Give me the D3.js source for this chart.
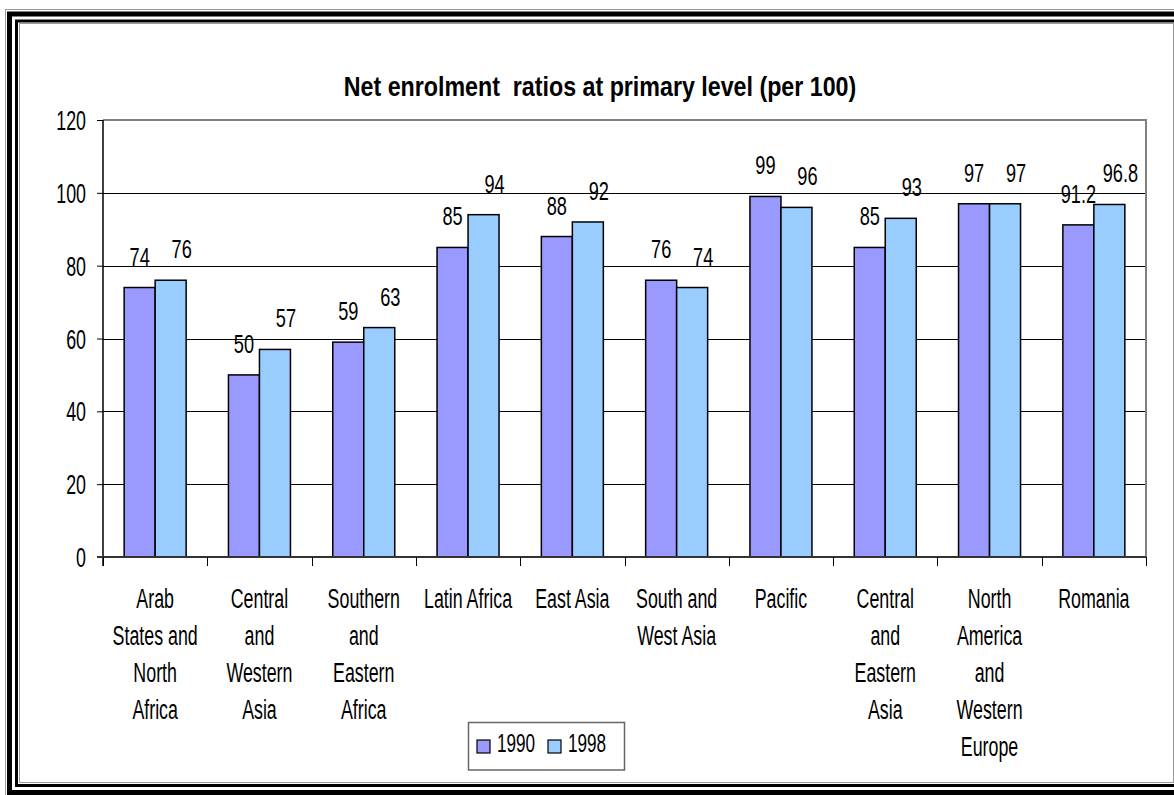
<!DOCTYPE html>
<html>
<head>
<meta charset="utf-8">
<script src="https://cdn.jsdelivr.net/npm/d3@7"></script>
<style>
  html, body { margin: 0; padding: 0; background: #fff; }
  svg { display: block; }
  text { font-family: "Liberation Sans", Arial, sans-serif; fill: #000; white-space: pre; }
</style>
</head>
<body>
<svg id="chart" width="1174" height="795"></svg>
<script>
// Net enrolment ratios at primary level, by region
const categories = [
  "Arab\nStates and\nNorth\nAfrica",
  "Central\nand\nWestern\nAsia",
  "Southern\nand\nEastern\nAfrica",
  "Latin Africa",
  "East Asia",
  "South and\nWest Asia",
  "Pacific",
  "Central\nand\nEastern\nAsia",
  "North\nAmerica\nand\nWestern\nEurope",
  "Romania"
];
const seriesNames = ["1990", "1998"];
const values1990 = [74, 50, 59, 85, 88, 76, 99, 85, 97, 91.2];
const values1998 = [76, 57, 63, 94, 92, 74, 96, 93, 97, 96.8];
const yTicks = [0, 20, 40, 60, 80, 100, 120];
const seriesColors = ["#9999FF", "#99CCFF"];
const titleText = "Net enrolment  ratios at primary level (per 100)";

const svg = d3.select("#chart");
const W = 1174, H = 795;
const plot = { left: 103, right: 1146, top: 120, bottom: 557 };
const SX = 0.66; // condensed glyph width

svg.append("rect").attr("width", W).attr("height", H).attr("fill", "#fff");

// Page frame: thin grey, thick black, medium black, thin grey
svg.append("rect").attr("x", 5.5).attr("y", 9.5).attr("width", W + 20).attr("height", H + 20)
  .attr("fill", "none").attr("stroke", "#999").attr("stroke-width", 1);
svg.append("rect").attr("x", 9.5).attr("y", 14).attr("width", W + 20).attr("height", 778.5)
  .attr("fill", "none").attr("stroke", "#000").attr("stroke-width", 5);
svg.append("rect").attr("x", 16.5).attr("y", 21).attr("width", W + 20).attr("height", 764.5)
  .attr("fill", "none").attr("stroke", "#000").attr("stroke-width", 3);
svg.append("rect").attr("x", 19.5).attr("y", 23.5).attr("width", 1173.5 - 19.5).attr("height", 759)
  .attr("fill", "none").attr("stroke", "#999").attr("stroke-width", 1);

function label(g, x, y, txt, anchor, size, sx, weight) {
  return g.append("text")
    .attr("transform", `translate(${x},${y}) scale(${sx},1)`)
    .attr("text-anchor", anchor)
    .attr("font-size", size)
    .attr("font-weight", weight || "normal")
    .text(txt);
}

// Title
label(svg, 600, 96, titleText, "middle", 28, 0.83, "bold");

// Scales
const x0 = d3.scaleBand().domain(d3.range(categories.length))
  .range([plot.left, plot.right]).paddingInner(0).paddingOuter(0);
const barW = 31;
const x1 = d3.scaleBand().domain(seriesNames).range([0, barW * 2]);
const y = d3.scaleLinear().domain([0, 120]).range([plot.bottom, plot.top]);

// Gridlines
svg.append("g").selectAll("line").data(yTicks.filter(t => t > 0 && t < 120)).join("line")
  .attr("x1", plot.left).attr("x2", plot.right)
  .attr("y1", d => Math.round(y(d)) + 0.5).attr("y2", d => Math.round(y(d)) + 0.5)
  .attr("stroke", "#000").attr("stroke-width", 1);

// Plot area frame (top and right edges)
svg.append("path")
  .attr("d", `M${plot.left},${y(120)}H${plot.right}V${plot.bottom}`)
  .attr("fill", "none").attr("stroke", "#808080").attr("stroke-width", 2);

// Bars
const groups = svg.append("g").selectAll("g").data(categories).join("g")
  .attr("transform", (d, i) => `translate(${x0(i) + (x0.bandwidth() - barW * 2) / 2},0)`);
const seriesValues = [values1990, values1998];
groups.each(function (d, i) {
  const g = d3.select(this);
  seriesNames.forEach((s, k) => {
    const v = seriesValues[k][i];
    g.append("rect")
      .attr("x", x1(s)).attr("y", y(v))
      .attr("width", x1.bandwidth()).attr("height", y(0) - y(v))
      .attr("fill", seriesColors[k]).attr("stroke", "#000").attr("stroke-width", 1.5);
  });
});

// Value labels
groups.each(function (d, i) {
  const g = d3.select(this);
  seriesNames.forEach((s, k) => {
    const v = seriesValues[k][i];
    const cx = x1(s) + x1.bandwidth() / 2 + (k === 1 ? 11 : 0);
    label(g, cx, y(v) - 22, String(v), "middle", 26, 0.7);
  });
});

// Y axis
const yAxis = d3.axisLeft(y).tickValues(yTicks).tickSize(6).tickFormat("");
const yg = svg.append("g").attr("transform", `translate(${plot.left},0)`).call(yAxis);
yg.select(".domain").attr("stroke", "#000").attr("stroke-width", 1.5)
  .attr("d", `M0,${y(120)}V${plot.bottom + 9}`);
yg.selectAll(".tick line").attr("stroke", "#000");
yTicks.forEach(t => label(svg, 86, y(t) + 10, String(t), "end", 27, SX));

// X axis baseline and category dividers
svg.append("line").attr("x1", plot.left - 6).attr("x2", plot.right)
  .attr("y1", plot.bottom).attr("y2", plot.bottom)
  .attr("stroke", "#333").attr("stroke-width", 2);
svg.append("g").selectAll("line").data(d3.range(categories.length + 1)).join("line")
  .attr("x1", i => Math.round(plot.left + i * x0.step()) + 0.5)
  .attr("x2", i => Math.round(plot.left + i * x0.step()) + 0.5)
  .attr("y1", plot.bottom).attr("y2", plot.bottom + 9)
  .attr("stroke", "#000").attr("stroke-width", 1);

// Category labels
categories.forEach((c, i) => {
  const cx = x0(i) + x0.bandwidth() / 2;
  c.split("\n").forEach((line, j) => {
    label(svg, cx, 608 + j * 37, line, "middle", 27, SX);
  });
});

// Legend
const lg = svg.append("g");
lg.append("rect").attr("x", 468.5).attr("y", 722.5).attr("width", 156).attr("height", 47.5)
  .attr("fill", "#fff").attr("stroke", "#666").attr("stroke-width", 1.5);
const legendX = [477, 548];
seriesNames.forEach((s, k) => {
  lg.append("rect").attr("x", legendX[k]).attr("y", 740).attr("width", 13).attr("height", 13)
    .attr("fill", seriesColors[k]).attr("stroke", "#000").attr("stroke-width", 1.2);
  label(lg, legendX[k] + 20, 752, s, "start", 26, SX);
});
</script>
</body>
</html>
